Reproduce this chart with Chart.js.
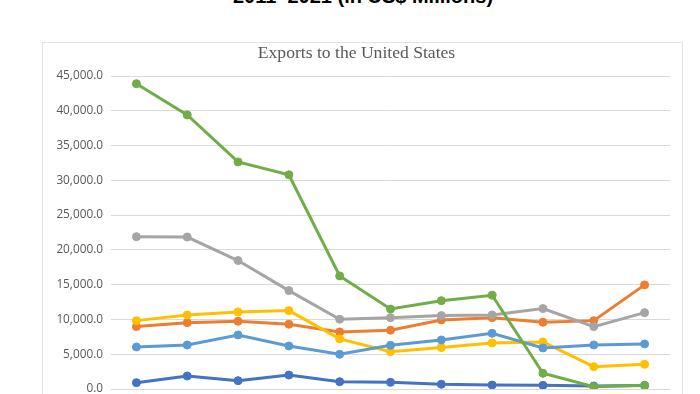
<!DOCTYPE html>
<html>
<head>
<meta charset="utf-8">
<script src="https://cdn.jsdelivr.net/npm/chart.js@4.4.0/dist/chart.umd.min.js"></script>
<style>
  body { margin: 0; background: #fff; width: 700px; height: 394px; overflow: hidden; position: relative; }
  #heading {
    position: absolute; left: 0; width: 726px; top: -14px;
    text-align: center; font: bold 20px "Liberation Sans", Arial, sans-serif;
    line-height: 20px; color: #000; white-space: nowrap;
  }
  #box {
    position: absolute; left: 42px; top: 42px; width: 641px; height: 420px;
    border: 1px solid #e3e3e3; box-sizing: border-box;
  }
  #box canvas { position: absolute; left: 0; top: 0; }
</style>
</head>
<body>
<div id="heading">2011–2021 (in US$ Millions)</div>
<div id="box"><canvas id="chart" width="639" height="418"></canvas></div>
<script>
  var years = ['2011', '2012', '2013', '2014', '2015', '2016', '2017', '2018', '2019', '2020', '2021'];

  var series1 = [910, 1870, 1200, 2010, 1050, 960, 680, 575, 530, 430, 500];
  var series2 = [8970, 9540, 9740, 9310, 8200, 8450, 9930, 10260, 9600, 9830, 14970];
  var series3 = [21900, 21850, 18470, 14150, 10030, 10260, 10550, 10650, 11560, 8970, 10980];
  var series4 = [9830, 10650, 11080, 11270, 7200, 5370, 5950, 6620, 6760, 3210, 3550];
  var series5 = [6040, 6330, 7770, 6190, 4990, 6280, 7050, 8010, 5900, 6330, 6480];
  var series6 = [43900, 39400, 32650, 30800, 16260, 11500, 12700, 13480, 2260, 330, 530];

  var colors = ['#4472C4', '#ED7D31', '#A5A5A5', '#FFC000', '#5B9BD5', '#70AD47'];
  var allSeries = [series1, series2, series3, series4, series5, series6];

  var datasets = [];
  for (var i = 0; i < allSeries.length; i++) {
    datasets.push({
      label: 'Series ' + (i + 1),
      data: allSeries[i],
      borderColor: colors[i],
      backgroundColor: colors[i],
      pointBackgroundColor: colors[i],
      pointBorderColor: colors[i],
      borderWidth: 3,
      pointRadius: 4,
      pointBorderWidth: 1,
      tension: 0,
      order: allSeries.length - i
    });
  }

  new Chart(document.getElementById('chart'), {
    type: 'line',
    data: { labels: years, datasets: datasets },
    options: {
      responsive: false,
      animation: false,
      layout: { padding: { left: 0, right: 12, top: 0, bottom: 0 } },
      plugins: {
        legend: { display: false },
        tooltip: { enabled: false },
        title: {
          display: true,
          text: 'Exports to the United States',
          color: '#595959',
          font: { family: '"Liberation Serif", "Times New Roman", serif', size: 17.6, weight: 'normal' },
          padding: { top: 0, bottom: 11.9 }
        }
      },
      scales: {
        x: {
          offset: true,
          grid: { display: false },
          border: { display: false },
          ticks: { color: '#595959', font: { family: '"Open Sans", sans-serif', size: 12 } },
          afterFit: function (scale) { scale.height = 72; }
        },
        y: {
          min: 0,
          max: 45000,
          ticks: {
            stepSize: 5000,
            padding: 8,
            color: '#595959',
            font: { family: '"Open Sans", sans-serif', size: 11.8 },
            callback: function (v) {
              return v.toLocaleString('en-US', { minimumFractionDigits: 1, maximumFractionDigits: 1 });
            }
          },
          grid: { color: '#d9d9d9', lineWidth: 1, drawTicks: false },
          border: { display: false },
          afterFit: function (scale) { scale.width = 68; }
        }
      }
    }
  });
</script>
</body>
</html>
